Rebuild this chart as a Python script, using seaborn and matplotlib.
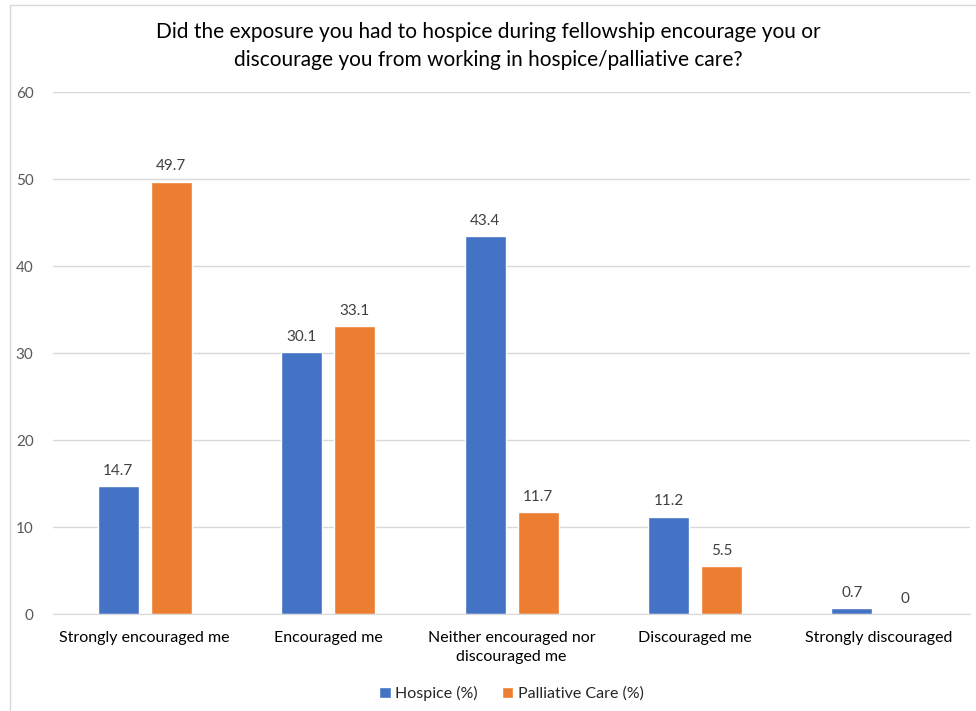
import matplotlib
matplotlib.use("Agg")
import matplotlib.pyplot as plt
import seaborn as sns
import pandas as pd
from matplotlib.patches import Rectangle

categories = ["Strongly encouraged me", "Encouraged me", "Neither encouraged nor\ndiscouraged me",
              "Discouraged me", "Strongly discouraged"]
hospice = [14.7, 30.1, 43.4, 11.2, 0.7]
palliative = [49.7, 33.1, 11.7, 5.5, 0]
series_names = ["Hospice (%)", "Palliative Care (%)"]
colors = ["#4472C4", "#ED7D31"]

df = pd.DataFrame({
    "category": categories * 2,
    "value": hospice + palliative,
    "series": [series_names[0]] * len(categories) + [series_names[1]] * len(categories),
})

sns.set_style("white")
plt.rcParams['font.family'] = ['Lato', 'DejaVu Sans']

fig = plt.figure(figsize=(9.76, 7.11), dpi=100)
ax = fig.add_axes([0.0543, 0.1364, 0.9396, 0.7342])

sns.barplot(data=df, x="category", y="value", hue="series", palette=colors,
            width=0.578, gap=0.226, ax=ax, saturation=1, legend=True)

ax.set_ylim(0, 60)
ax.set_xlim(-0.5, len(categories) - 0.5)
ax.set_yticks(range(0, 61, 10))
ax.yaxis.grid(True, color="#D9D9D9", linewidth=1)
ax.set_axisbelow(True)
for s in ["top", "right", "left"]:
    ax.spines[s].set_visible(False)
ax.spines["bottom"].set_color("#D9D9D9")
ax.tick_params(axis="both", length=0)
ax.tick_params(axis="y", labelcolor="#595959", labelsize=11, pad=14)
ax.tick_params(axis="x", labelcolor="#000000", labelsize=11.5, pad=12)
for t in ax.get_xticklabels():
    t.set_linespacing(1.45)
ax.set_xlabel("")
ax.set_ylabel("")

for cont in ax.containers:
    labels = [("%g" % v.get_height()) for v in cont]
    ax.bar_label(cont, labels=labels, padding=6, color="#404040", fontsize=11)

ax.legend(loc="upper center", bbox_to_anchor=(0.5, -0.11), ncol=2, frameon=False,
          fontsize=11.5, handlelength=0.7, handleheight=0.7, handletextpad=0.3, columnspacing=1.5)

fig.text(0.5, 0.935, "Did the exposure you had to hospice during fellowship encourage you or\n"
         "discourage you from working in hospice/palliative care?",
         ha="center", va="center", fontsize=15, color="#000000", linespacing=1.5)

fig.patches.append(Rectangle((10 / 976, -0.1), 1.2, 1 - 5 / 711 + 0.1, transform=fig.transFigure,
                             fill=False, edgecolor="#D9D9D9", linewidth=1))

fig.savefig("out.png", dpi=100)
